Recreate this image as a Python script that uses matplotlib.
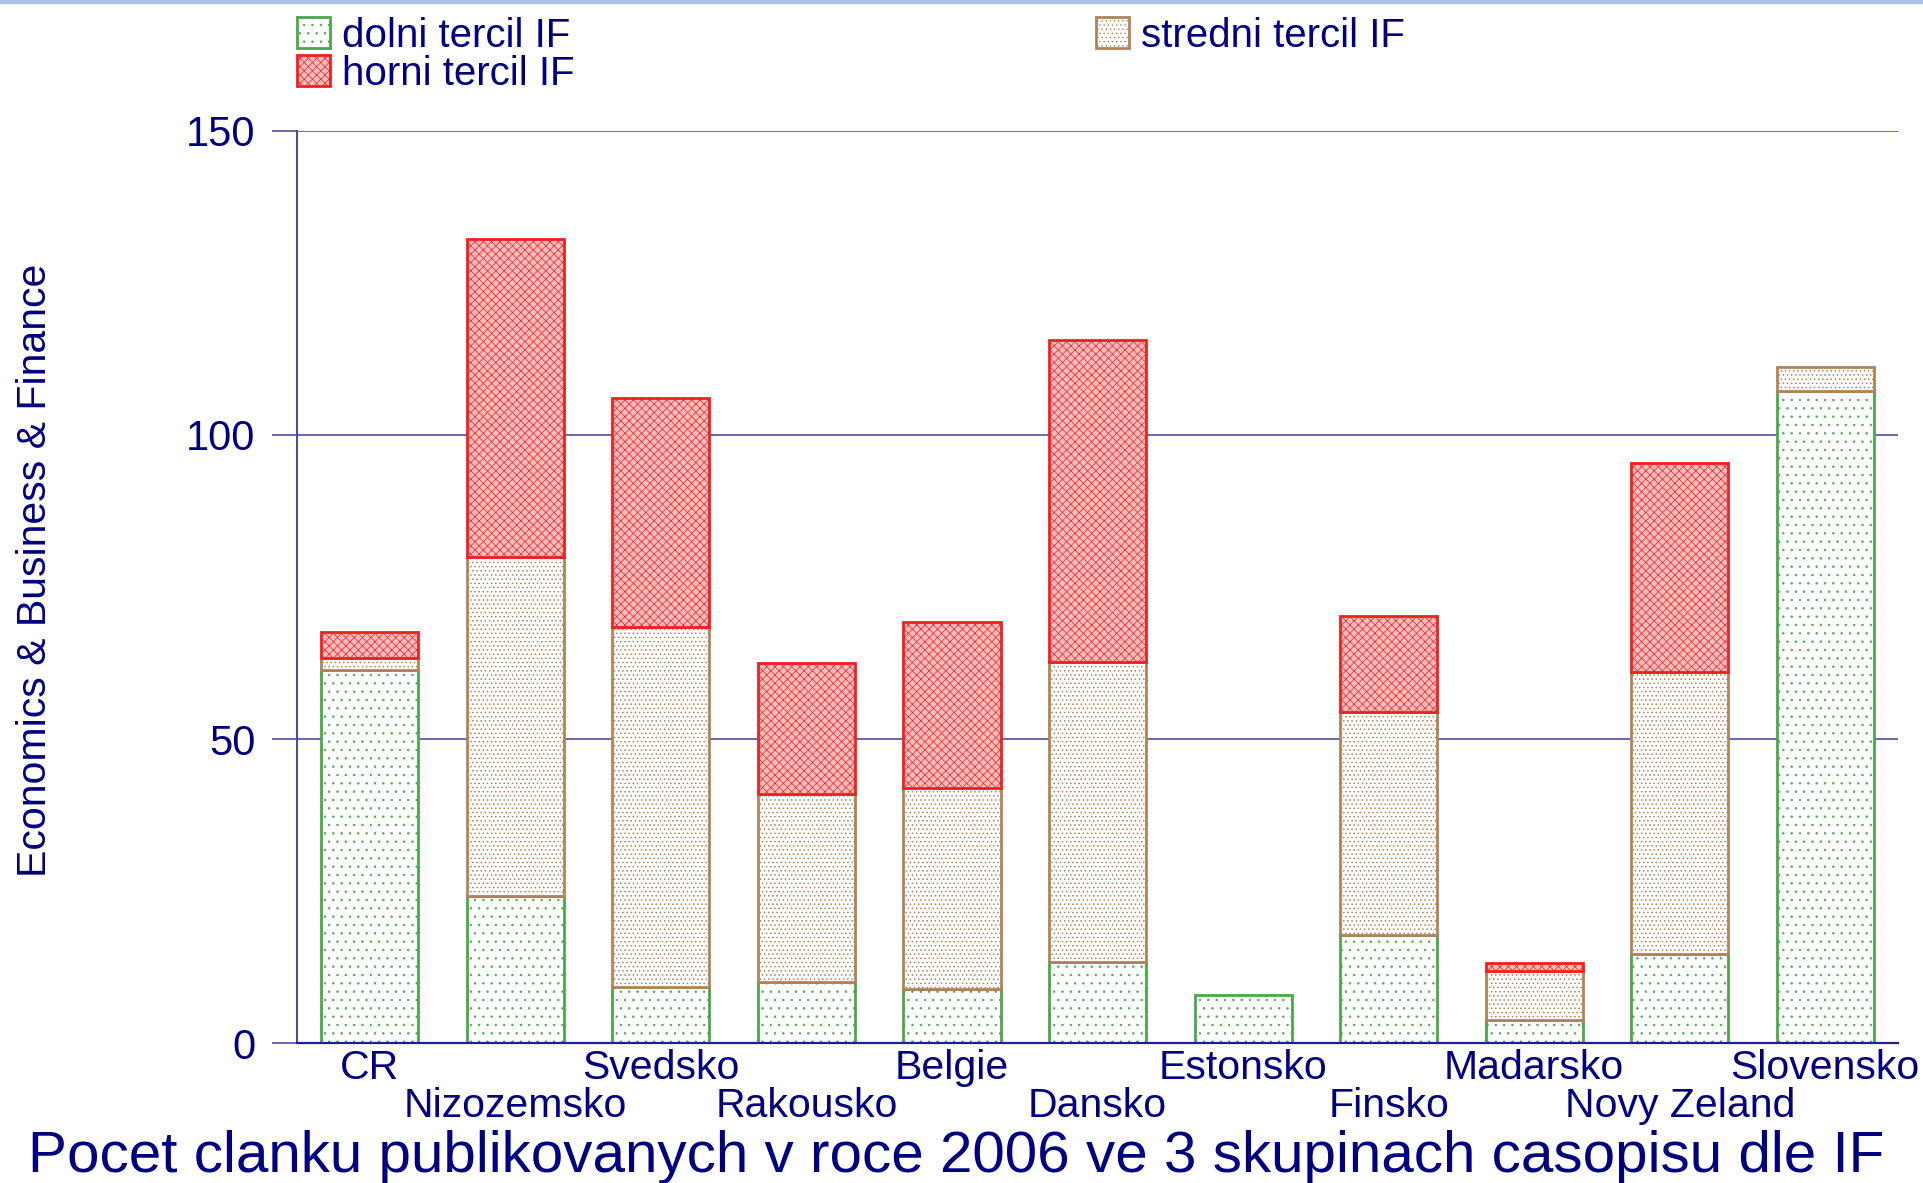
import matplotlib.pyplot as plt
from matplotlib.lines import Line2D

plt.rcParams["font.family"] = ["Liberation Sans", "DejaVu Sans"]

countries = ["CR", "Nizozemsko", "Svedsko", "Rakousko", "Belgie", "Dansko",
             "Estonsko", "Finsko", "Madarsko", "Novy Zeland", "Slovensko"]
dolni = [61.4, 24.2, 9.3, 10.1, 8.9, 13.3, 7.9, 17.7, 3.8, 14.7, 107.3]
stredni = [2.0, 55.7, 59.2, 30.9, 33.0, 49.3, 0.0, 36.8, 8.1, 46.3, 3.8]
horni = [4.2, 52.4, 37.6, 21.5, 27.4, 53.0, 0.0, 15.7, 1.3, 34.4, 0.0]
yticks = [0, 50, 100, 150]

navy = "#000080"
grid_col = "#5a5aae"

fig = plt.figure(figsize=(19.24, 11.83), dpi=100)
ax = fig.add_axes([0.1544, 0.1183, 0.8321, 0.7710])

x = list(range(len(countries)))
w = 0.667
bottom2 = [a + b for a, b in zip(dolni, stredni)]

# hatch linewidth is picked up when each patch is created
plt.rcParams["hatch.linewidth"] = 0.5
b1 = ax.bar(x, dolni, w, color="white", edgecolor="#4aa84a", hatch="..",
            lw=2, label="dolni tercil IF")
plt.rcParams["hatch.linewidth"] = 0.6
b2 = ax.bar(x, stredni, w, bottom=dolni, color="white", edgecolor="#b08458",
            hatch="....", lw=2, label="stredni tercil IF")
plt.rcParams["hatch.linewidth"] = 0.5
b3 = ax.bar(x, horni, w, bottom=bottom2, color="#ffbcbc", edgecolor="#f02020",
            hatch="xxxx", lw=2, label="horni tercil IF")
# drop empty segments so no stray outlines sit on top of bars
for i in range(len(x)):
    if stredni[i] == 0:
        b2[i].set_visible(False)
    if horni[i] == 0:
        b3[i].set_visible(False)

ax.set_xlim(-0.5, 10.5)
ax.set_ylim(0, 150)
ax.set_yticks(yticks)
ax.set_yticklabels([str(t) for t in yticks], fontsize=30, color=navy)
ax.yaxis.grid(True, color=grid_col, lw=1.3)
ax.set_axisbelow(True)
ax.tick_params(axis="y", length=18, width=1.3, color=grid_col, pad=12)

# staggered country names: even ones on the first row, odd ones below
ax.set_xticks(x[0::2])
ax.set_xticklabels(countries[0::2], fontsize=29.5, color=navy)
ax.set_xticks(x[1::2], minor=True)
ax.set_xticklabels(countries[1::2], minor=True, fontsize=29.5, color=navy)
ax.tick_params(axis="x", which="major", length=0, pad=4)
ax.tick_params(axis="x", which="minor", length=0, pad=32)

for s in ["top", "right"]:
    ax.spines[s].set_visible(False)
ax.spines["left"].set_color("#3a3aa6")
ax.spines["left"].set_linewidth(1.3)
ax.spines["bottom"].set_color("#20208a")
ax.spines["bottom"].set_linewidth(1.6)

fig.text(0.018, 0.518, "Economics & Business & Finance", rotation=90,
         fontsize=29.5, color=navy, ha="center", va="center")
fig.text(0.497, 0.0093,
         "Pocet clanku publikovanych v roce 2006 ve 3 skupinach casopisu dle IF",
         fontsize=42, color=navy, ha="center", va="baseline")

leg_kw = dict(loc="upper left", frameon=False, fontsize=29, labelcolor=navy,
              borderpad=0, borderaxespad=0, handlelength=0.82,
              handleheight=0.82, handletextpad=0.3, labelspacing=0.0)
fig.legend([b1, b3], ["dolni tercil IF", "horni tercil IF"],
           bbox_to_anchor=(0.1544, 0.986), **leg_kw)
fig.legend([b2], ["stredni tercil IF"],
           bbox_to_anchor=(0.5697, 0.986), **leg_kw)

fig.add_artist(Line2D([0, 1], [0.9985, 0.9985], transform=fig.transFigure,
                      color="#a9c4ea", lw=3))

fig.savefig("out.png", dpi=100)
